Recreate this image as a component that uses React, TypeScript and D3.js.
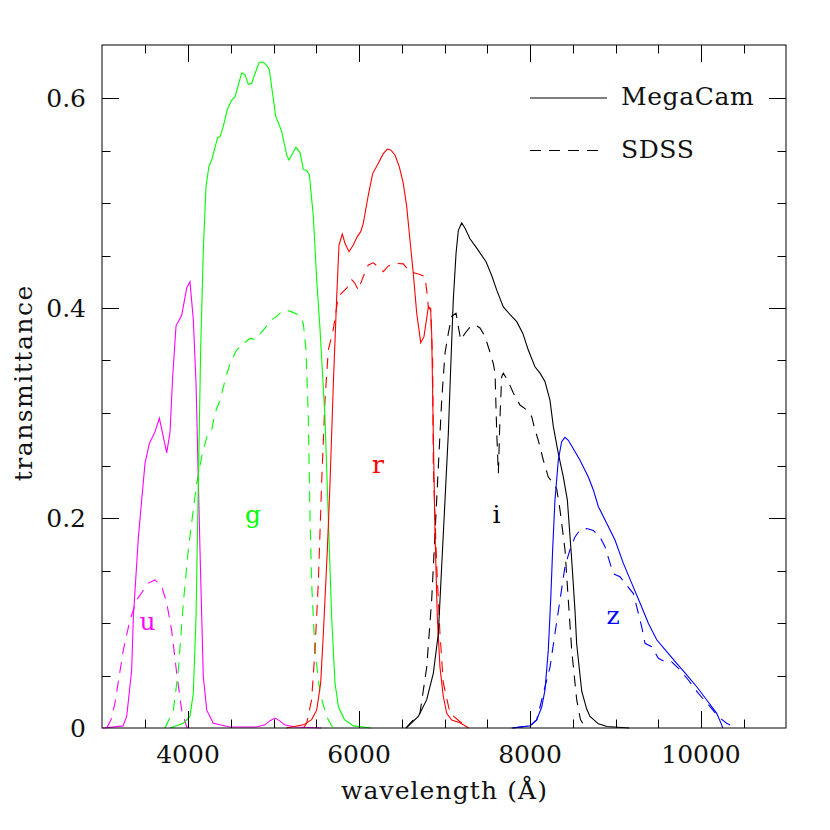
import React from "react";
import * as d3 from "d3";

// wavelength (Å), transmittance
const uMega: [number, number][] = [
  [3000, 0], [3020, 0], [3240, 0.002], [3283, 0.011], [3341, 0.055], [3361, 0.106], [3420, 0.182],
  [3497, 0.252], [3548, 0.271], [3614, 0.282], [3665, 0.295], [3751, 0.262], [3790, 0.282],
  [3821, 0.335], [3860, 0.383], [3926, 0.393], [3985, 0.419], [4023, 0.425], [4062, 0.389],
  [4094, 0.328], [4140, 0.17], [4179, 0.049], [4219, 0.017], [4296, 0.0045], [4490, 0.001],
  [4800, 0.001], [4900, 0.003], [4960, 0.007], [5018, 0.0095], [5070, 0.007], [5130, 0.003],
  [5250, 0.001], [5400, 0.0005], [5560, 0],
];
const uSdss: [number, number][] = [
  [3050, 0], [3100, 0.008], [3146, 0.024], [3243, 0.074], [3322, 0.103], [3400, 0.122],
  [3477, 0.131], [3536, 0.138], [3614, 0.141], [3692, 0.135], [3751, 0.119], [3809, 0.093],
  [3868, 0.052], [3926, 0.017], [3985, 0.001], [4000, 0],
];
const gMega: [number, number][] = [
  [3790, 0], [3945, 0.0045], [4023, 0.011], [4062, 0.033], [4094, 0.106], [4121, 0.233],
  [4148, 0.36], [4179, 0.455], [4210, 0.515], [4245, 0.535], [4277, 0.541], [4347, 0.5625],
  [4374, 0.563], [4413, 0.573], [4460, 0.589], [4511, 0.598], [4550, 0.601], [4628, 0.624],
  [4667, 0.622], [4706, 0.613], [4745, 0.614], [4792, 0.625], [4834, 0.634], [4881, 0.634],
  [4920, 0.631], [4951, 0.627], [4990, 0.604], [5025, 0.583], [5096, 0.568], [5154, 0.546],
  [5181, 0.541], [5263, 0.553], [5310, 0.548], [5349, 0.532], [5388, 0.531], [5419, 0.527],
  [5466, 0.487], [5505, 0.427], [5544, 0.38], [5602, 0.296], [5641, 0.201], [5680, 0.106],
  [5719, 0.043], [5760, 0.02], [5830, 0.008], [5935, 0.002], [6140, 0],
];
const gSdss: [number, number][] = [
  [3731, 0], [3829, 0.017], [3887, 0.055], [3945, 0.119], [4004, 0.17], [4062, 0.208],
  [4101, 0.233], [4160, 0.258], [4219, 0.277], [4277, 0.284], [4316, 0.3], [4374, 0.312],
  [4433, 0.331], [4491, 0.347], [4569, 0.36], [4647, 0.366], [4725, 0.371], [4784, 0.37],
  [4881, 0.379], [4979, 0.389], [5037, 0.392], [5115, 0.398], [5193, 0.397], [5310, 0.393],
  [5349, 0.385], [5380, 0.36], [5407, 0.296], [5427, 0.201], [5446, 0.138], [5485, 0.074],
  [5544, 0.033], [5622, 0.011], [5680, 0.002], [5750, 0],
];
const rMega: [number, number][] = [
  [5150, 0], [5349, 0.003], [5446, 0.008], [5505, 0.017], [5552, 0.043], [5583, 0.09],
  [5630, 0.17], [5661, 0.233], [5700, 0.328], [5739, 0.41], [5766, 0.46], [5805, 0.4705],
  [5836, 0.4616], [5883, 0.4536], [5933, 0.46], [5980, 0.468], [6020, 0.4727], [6050, 0.4806],
  [6109, 0.5076], [6160, 0.528], [6226, 0.5378], [6284, 0.547], [6331, 0.5514], [6371, 0.5505],
  [6421, 0.5457], [6471, 0.5346], [6518, 0.5187], [6558, 0.4965], [6596, 0.4648], [6635, 0.433],
  [6675, 0.395], [6722, 0.367], [6760, 0.3727], [6811, 0.401], [6838, 0.398], [6850, 0.376],
  [6869, 0.281], [6889, 0.185], [6916, 0.106], [6947, 0.058], [6986, 0.03], [7026, 0.014],
  [7084, 0.0076], [7181, 0.005], [7283, 0],
];
const rSdss: [number, number][] = [
  [5350, 0], [5388, 0.0045], [5446, 0.027], [5485, 0.074], [5524, 0.138], [5563, 0.233],
  [5602, 0.312], [5641, 0.36], [5700, 0.38], [5758, 0.411], [5856, 0.419], [5914, 0.427],
  [5953, 0.4235], [5992, 0.417], [6050, 0.43], [6109, 0.441], [6168, 0.443], [6226, 0.439],
  [6284, 0.4346], [6343, 0.44], [6441, 0.4425], [6518, 0.442], [6596, 0.4346], [6713, 0.432],
  [6772, 0.43], [6791, 0.417], [6811, 0.401], [6838, 0.3997], [6862, 0.347], [6869, 0.249],
  [6909, 0.154], [6947, 0.09], [6986, 0.043], [7065, 0.014], [7181, 0.006], [7220, 0.0045],
  [7260, 0],
];
const iMega: [number, number][] = [
  [6550, 0], [6694, 0.011], [6792, 0.027], [6869, 0.052], [6928, 0.09], [6967, 0.154],
  [7006, 0.217], [7045, 0.281], [7073, 0.344], [7103, 0.408], [7135, 0.452], [7162, 0.474],
  [7201, 0.481], [7240, 0.476], [7298, 0.466], [7377, 0.457], [7486, 0.444], [7552, 0.431],
  [7611, 0.417], [7688, 0.401], [7786, 0.392], [7845, 0.387], [7915, 0.376], [7980, 0.36],
  [8058, 0.344], [8117, 0.338], [8175, 0.33], [8234, 0.312], [8273, 0.287], [8331, 0.2616],
  [8390, 0.239], [8437, 0.217], [8488, 0.16], [8526, 0.112], [8546, 0.08], [8605, 0.035],
  [8663, 0.018], [8702, 0.011], [8800, 0.004], [8900, 0.0015], [9160, 0],
];
const iSdss: [number, number][] = [
  [6550, 0], [6597, 0.0045], [6713, 0.014], [6792, 0.058], [6850, 0.122], [6889, 0.185],
  [6928, 0.249], [6967, 0.312], [7006, 0.357], [7045, 0.376], [7084, 0.392], [7135, 0.395],
  [7162, 0.382], [7190, 0.3695], [7240, 0.376], [7290, 0.381], [7357, 0.384], [7415, 0.381],
  [7474, 0.3727], [7524, 0.36], [7571, 0.347], [7591, 0.338], [7611, 0.281], [7630, 0.2425],
  [7649, 0.296], [7669, 0.3346], [7688, 0.338], [7746, 0.33], [7805, 0.319], [7883, 0.3076],
  [7961, 0.303], [8020, 0.2965], [8058, 0.284], [8097, 0.274], [8156, 0.255], [8214, 0.239],
  [8273, 0.233], [8312, 0.228], [8351, 0.2076], [8409, 0.17], [8448, 0.122], [8488, 0.074],
  [8546, 0.027], [8590, 0.008], [8650, 0],
];
const zMega: [number, number][] = [
  [7786, 0], [8000, 0.002], [8078, 0.0076], [8137, 0.02], [8175, 0.036], [8214, 0.074],
  [8242, 0.122], [8265, 0.17], [8292, 0.217], [8331, 0.255], [8370, 0.2727], [8409, 0.2768],
  [8448, 0.274], [8507, 0.266], [8585, 0.255], [8682, 0.239], [8741, 0.2267], [8799, 0.211],
  [8897, 0.195], [8994, 0.179], [9091, 0.157], [9189, 0.138], [9287, 0.119], [9384, 0.0997],
  [9482, 0.084], [9599, 0.0727], [9716, 0.0616], [9833, 0.0505], [9950, 0.0393], [10067, 0.0267],
  [10184, 0.014], [10242, 0.003], [10254, 0],
];
const zSdss: [number, number][] = [
  [7800, 0], [8000, 0.002], [8078, 0.0076], [8156, 0.033], [8234, 0.058], [8292, 0.09],
  [8351, 0.122], [8409, 0.1536], [8468, 0.17], [8526, 0.182], [8585, 0.1886], [8663, 0.19],
  [8741, 0.188], [8819, 0.182], [8877, 0.1727], [8936, 0.157], [8974, 0.147], [9053, 0.144],
  [9131, 0.136], [9209, 0.128], [9248, 0.1155], [9306, 0.0965], [9345, 0.0807], [9423, 0.0774],
  [9501, 0.0664], [9579, 0.0631], [9657, 0.0631], [9755, 0.0552], [9852, 0.0457], [9969, 0.033],
  [10106, 0.0203], [10203, 0.0108], [10300, 0.0045], [10417, 0],
];

const filterNames = ["u", "g", "r", "i", "z"];
const filterColors = ["#ff00ff", "#00ff00", "#ff0000", "#000000", "#0000ff"];
const megaCurves = [uMega, gMega, rMega, iMega, zMega];
const sdssCurves = [uSdss, gSdss, rSdss, iSdss, zSdss];
// label anchor positions (wavelength, transmittance)
const labelPos: [number, number][] = [
  [3526, 0.093], [4760, 0.195], [6222, 0.243], [7608, 0.195], [8971, 0.099],
];

const xMajorTicks = [4000, 6000, 8000, 10000];
const xMinorTicks = d3.range(3500, 11000, 500);
const yMajorTicks = [0, 0.2, 0.4, 0.6];
const yMinorTicks = d3.range(0.05, 0.65, 0.05);
const yTickLabels = ["0", "0.2", "0.4", "0.6"];
const legendNames = ["MegaCam", "SDSS"];

const FONT = "'DejaVu Serif', serif";

export default function App() {
  const left = 102.5, right = 786.5, top = 45.5, bottom = 728;
  const x = d3.scaleLinear().domain([3000, 11000]).range([left, right]);
  const y = d3.scaleLinear().domain([0, 0.65]).range([bottom, top]);
  const line = d3
    .line<[number, number]>()
    .x((d) => x(d[0]))
    .y((d) => y(d[1]));
  const dash = "11 8";
  const majLen = 17, minLen = 8.5;

  return (
    <svg
      width={830}
      height={830}
      style={{ position: "absolute", left: 0, top: 0, background: "#fff" }}
      fontFamily={FONT}
    >
      <rect width={830} height={830} fill="#fff" />
      {/* curves */}
      {sdssCurves.map((c, i) => (
        <path key={"s" + i} d={line(c) || ""} fill="none" stroke={filterColors[i]}
          strokeWidth={1.1} strokeDasharray={dash} />
      ))}
      {megaCurves.map((c, i) => (
        <path key={"m" + i} d={line(c) || ""} fill="none" stroke={filterColors[i]} strokeWidth={1.1} />
      ))}
      {/* filter labels */}
      {filterNames.map((n, i) => (
        <text key={n} x={x(labelPos[i][0])} y={y(labelPos[i][1])} fill={filterColors[i]}
          fontSize={25} textAnchor="middle">{n}</text>
      ))}
      {/* frame */}
      <rect x={102} y={45} width={684} height={683} fill="none" stroke="#000" strokeWidth={1} />
      {/* x ticks bottom and top */}
      {xMinorTicks.map((t) => {
        const major = xMajorTicks.includes(t);
        const len = major ? majLen : minLen;
        const px = Math.round(x(t)) + 0.5;
        return (
          <g key={"xt" + t}>
            <line x1={px} x2={px} y1={bottom} y2={bottom - len} stroke="#000" />
            <line x1={px} x2={px} y1={45} y2={45 + len} stroke="#000" />
          </g>
        );
      })}
      {/* y ticks left and right */}
      {[0, ...yMinorTicks].map((t, k) => {
        if (t === 0) return null;
        const major = yMajorTicks.some((m) => Math.abs(m - t) < 1e-6);
        const len = major ? majLen : minLen;
        const py = Math.round(y(t)) + 0.5;
        return (
          <g key={"yt" + k}>
            <line x1={102} x2={102 + len} y1={py} y2={py} stroke="#000" />
            <line x1={786} x2={786 - len} y1={py} y2={py} stroke="#000" />
          </g>
        );
      })}
      {/* x tick labels */}
      {xMajorTicks.map((t) => (
        <text key={"xl" + t} x={x(t)} y={763} fontSize={25} textAnchor="middle" fill="#111">
          {t}
        </text>
      ))}
      {/* y tick labels */}
      {yMajorTicks.map((t, i) => (
        <text key={"yl" + t} x={86} y={y(t) + 9} fontSize={25} textAnchor="end" fill="#111">
          {yTickLabels[i]}
        </text>
      ))}
      {/* axis titles */}
      <text x={(left + right) / 2} y={799} fontSize={25} textAnchor="middle" letterSpacing={1.1} fill="#111">
        wavelength (Å)
      </text>
      <text transform={`translate(32,${(top + bottom) / 2 - 4}) rotate(-90)`} fontSize={25}
        textAnchor="middle" letterSpacing={1.5} fill="#111">
        transmittance
      </text>
      {/* legend */}
      {legendNames.map((n, i) => {
        const ly = y(0.6 - i * 0.05);
        return (
          <g key={n}>
            <line x1={530} x2={i === 0 ? 607 : 601} y1={ly} y2={ly} stroke="#000" strokeWidth={1.1}
              strokeDasharray={i === 0 ? undefined : dash} />
            <text x={621} y={ly + 7} fontSize={25} letterSpacing={0.6} fill="#111">{n}</text>
          </g>
        );
      })}
    </svg>
  );
}
